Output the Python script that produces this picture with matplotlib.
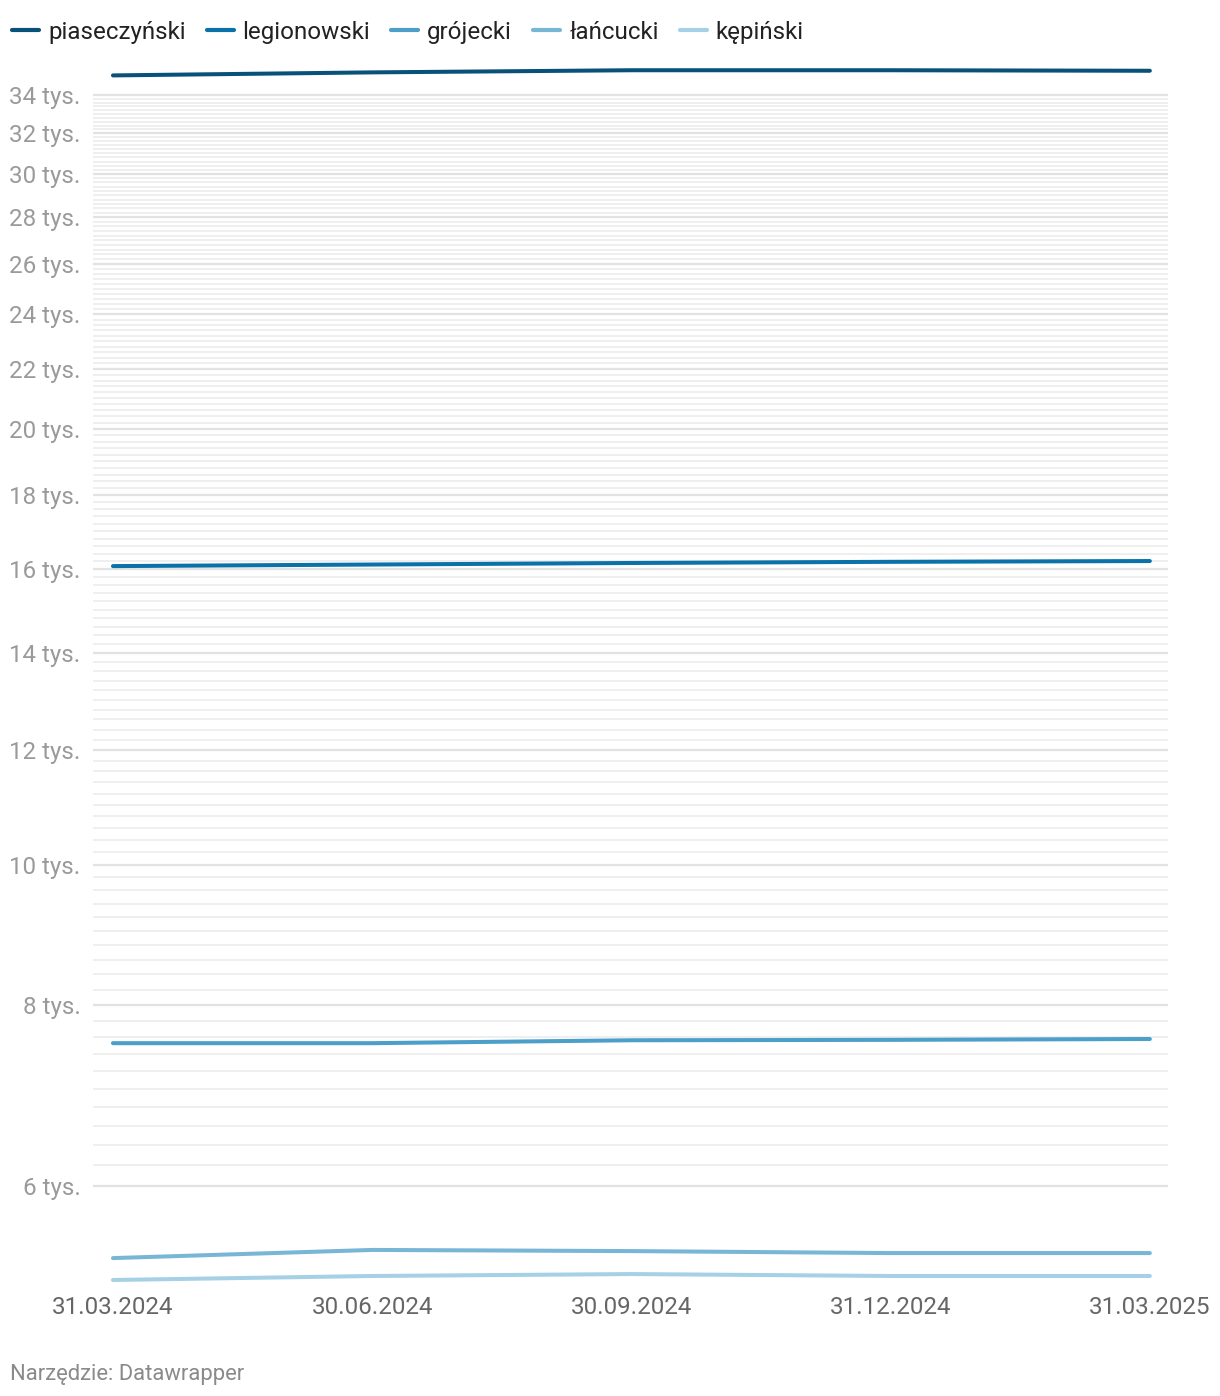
import matplotlib.pyplot as plt
from matplotlib.lines import Line2D
from matplotlib.ticker import FixedLocator, NullFormatter

plt.rcParams['font.family'] = ['Roboto', 'DejaVu Sans']

# dane (liczba ludności / mieszkańców)
dates = ['31.03.2024', '30.06.2024', '30.09.2024', '31.12.2024', '31.03.2025']
names = ['piaseczyński', 'legionowski', 'grójecki', 'łańcucki', 'kępiński']
piaseczynski = [35090, 35260, 35380, 35380, 35350]
legionowski = [16080, 16120, 16160, 16190, 16210]
grojecki = [7530, 7530, 7565, 7570, 7580]
lancucki = [5350, 5420, 5410, 5393, 5393]
kepinski = [5167, 5200, 5216, 5200, 5200]
series = [piaseczynski, legionowski, grojecki, lancucki, kepinski]
colors = ['#08527a', '#0a72a8', '#4b9fc8', '#78b6d6', '#a6d0e5']

y_major = [6000, 8000, 10000, 12000, 14000, 16000, 18000, 20000, 22000,
           24000, 26000, 28000, 30000, 32000, 34000]

W, H = 1220, 1396
fig = plt.figure(figsize=(W / 100, H / 100), dpi=100)
# axes: x 93..1168 px, y 65..1285 px
ax = fig.add_axes([93 / W, 1 - 1285 / H, (1168 - 93) / W, (1285 - 65) / H])

ax.set_yscale('log')
ax.set_ylim(5126, 35676)
ax.set_xlim(-0.077, 4.07)

# siatka co 200
minor = [v for v in range(6000, 34001, 200) if v not in y_major]
for v in minor:
    ax.axhline(v, color='#efefef', lw=1.4, zorder=0)
for v in y_major:
    ax.axhline(v, color='#e2e2e2', lw=1.6, zorder=0)

x = list(range(len(dates)))
for vals, c in zip(series, colors):
    ax.plot(x, vals, color=c, lw=2.9, solid_capstyle='round', zorder=3)

ax.yaxis.set_major_locator(FixedLocator(y_major))
ax.yaxis.set_minor_locator(FixedLocator([]))
ax.yaxis.set_minor_formatter(NullFormatter())
ax.set_yticklabels([f'{v // 1000} tys.' for v in y_major])
ax.tick_params(axis='y', length=0, pad=9, labelsize=17.4, labelcolor='#9a9a9a')

ax.set_xticks(x)
ax.set_xticklabels(dates)
ax.tick_params(axis='x', length=0, pad=8, labelsize=17.4, labelcolor='#666666')

for s in ax.spines.values():
    s.set_visible(False)

# legenda
fig.canvas.draw()
renderer = fig.canvas.get_renderer()
px = 12
ly = 1 - 32.5 / H
for name, c in zip(names, colors):
    fig.add_artist(Line2D([px / W, (px + 27) / W], [1 - 30 / H, 1 - 30 / H],
                          color=c, lw=3, solid_capstyle='round',
                          transform=fig.transFigure))
    t = fig.text((px + 36) / W, ly, name, fontsize=17.4, color='#222222',
                 va='center', ha='left')
    bb = t.get_window_extent(renderer)
    px = bb.x1 + 21

fig.text(10 / W, 1 - 1374.5 / H, 'Narzędzie: Datawrapper', fontsize=15.8,
         color='#8a8a8a', va='center', ha='left')

fig.savefig('out.png', dpi=100)
